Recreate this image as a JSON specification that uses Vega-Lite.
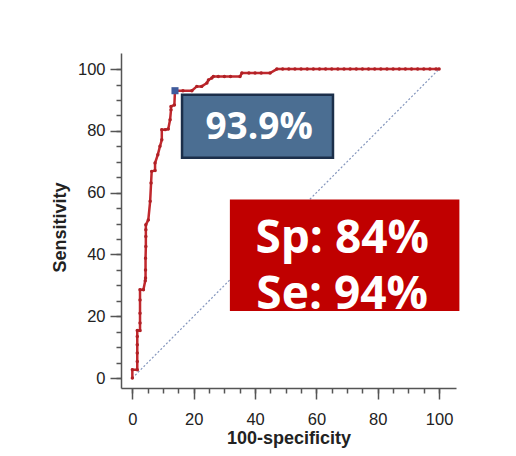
{
  "$schema": "https://vega.github.io/schema/vega-lite/v6.json",
  "width": 335,
  "height": 335,
  "autosize": {"type": "none"},
  "padding": {"left": 121, "top": 53, "right": 60, "bottom": 68},
  "background": "white",
  "config": {"view": {"stroke": null}, "font": "Liberation Sans"},
  "datasets": {
    "diag": [{"fpr": 0, "tpr": 0}, {"fpr": 100, "tpr": 100}],
    "roc": [
      {"fpr": 0, "tpr": 0}, {"fpr": 0, "tpr": 2.7}, {"fpr": 1.6, "tpr": 2.7},
      {"fpr": 1.6, "tpr": 5.4}, {"fpr": 1.6, "tpr": 8.1}, {"fpr": 1.6, "tpr": 10.8}, {"fpr": 1.6, "tpr": 13.5}, {"fpr": 1.6, "tpr": 15.4},
      {"fpr": 2.5, "tpr": 15.4}, {"fpr": 2.5, "tpr": 17.8}, {"fpr": 2.5, "tpr": 21}, {"fpr": 2.5, "tpr": 25.3}, {"fpr": 2.5, "tpr": 28.6},
      {"fpr": 3.6, "tpr": 28.6}, {"fpr": 4.2, "tpr": 31.5}, {"fpr": 4.3, "tpr": 32.4}, {"fpr": 4.3, "tpr": 35}, {"fpr": 4.3, "tpr": 38.8},
      {"fpr": 4.4, "tpr": 42.6}, {"fpr": 4.4, "tpr": 45.8}, {"fpr": 4.4, "tpr": 48}, {"fpr": 4.4, "tpr": 49.6},
      {"fpr": 5.2, "tpr": 51.2}, {"fpr": 5.8, "tpr": 57.2}, {"fpr": 6.1, "tpr": 63.1}, {"fpr": 6.3, "tpr": 66.9},
      {"fpr": 7.4, "tpr": 67.2}, {"fpr": 7.4, "tpr": 69.6}, {"fpr": 8.3, "tpr": 72.3}, {"fpr": 9.0, "tpr": 75}, {"fpr": 9.6, "tpr": 77.1},
      {"fpr": 9.6, "tpr": 80.4}, {"fpr": 10.7, "tpr": 80.4}, {"fpr": 11.7, "tpr": 80.6}, {"fpr": 12.3, "tpr": 83.6},
      {"fpr": 12.6, "tpr": 86.8}, {"fpr": 12.6, "tpr": 87.9}, {"fpr": 13.7, "tpr": 88.4}, {"fpr": 13.9, "tpr": 93},
      {"fpr": 16.5, "tpr": 93}, {"fpr": 19.4, "tpr": 93}, {"fpr": 21, "tpr": 94.4}, {"fpr": 22.6, "tpr": 94.4},
      {"fpr": 24.3, "tpr": 95.5}, {"fpr": 24.8, "tpr": 96.5}, {"fpr": 25.9, "tpr": 97.1}, {"fpr": 26.4, "tpr": 97.6},
      {"fpr": 28, "tpr": 97.6}, {"fpr": 30, "tpr": 97.6}, {"fpr": 32, "tpr": 97.6}, {"fpr": 35.1, "tpr": 97.6},
      {"fpr": 35.7, "tpr": 98.7}, {"fpr": 38, "tpr": 98.7}, {"fpr": 40, "tpr": 98.7}, {"fpr": 42, "tpr": 98.7}, {"fpr": 44.9, "tpr": 98.7},
      {"fpr": 47.1, "tpr": 100}, {"fpr": 49, "tpr": 100}, {"fpr": 51, "tpr": 100}, {"fpr": 53, "tpr": 100}, {"fpr": 55, "tpr": 100},
      {"fpr": 57, "tpr": 100}, {"fpr": 59, "tpr": 100}, {"fpr": 61, "tpr": 100}, {"fpr": 63, "tpr": 100}, {"fpr": 65, "tpr": 100},
      {"fpr": 67, "tpr": 100}, {"fpr": 69, "tpr": 100}, {"fpr": 71, "tpr": 100}, {"fpr": 73, "tpr": 100}, {"fpr": 75, "tpr": 100},
      {"fpr": 77, "tpr": 100}, {"fpr": 79, "tpr": 100}, {"fpr": 81, "tpr": 100}, {"fpr": 83, "tpr": 100}, {"fpr": 85, "tpr": 100},
      {"fpr": 87, "tpr": 100}, {"fpr": 89, "tpr": 100}, {"fpr": 91, "tpr": 100}, {"fpr": 93, "tpr": 100}, {"fpr": 95, "tpr": 100},
      {"fpr": 97, "tpr": 100}, {"fpr": 99, "tpr": 100}, {"fpr": 100, "tpr": 100}
    ],
    "cut": [{"fpr": 13.9, "tpr": 93}],
    "boxes": [
      {"box": "criterion", "x1": 16.2, "x2": 65.4, "y1": 71.3, "y2": 91.7},
      {"box": "summary", "x1": 32.2, "x2": 106.2, "y1": 22.1, "y2": 57.4}
    ],
    "blueText": [{"label": "93.9%", "x": 41.3, "y": 80.9}],
    "redText": [
      {"label": "Sp: 84%", "x": 68.4, "y": 45},
      {"label": "Se: 94%", "x": 68.4, "y": 26.8}
    ]
  },
  "layer": [
    {
      "data": {"name": "diag"},
      "mark": {"type": "line", "color": "#8496bd", "strokeWidth": 1.2, "strokeDash": [2, 2]},
      "encoding": {
        "x": {"field": "fpr", "type": "quantitative",
          "scale": {"domain": [-3.7, 105.5], "nice": false, "zero": false},
          "axis": {"orient": "bottom", "values": [0,5,10,15,20,25,30,35,40,45,50,55,60,65,70,75,80,85,90,95,100],
            "tickSize": 5, "tickWidth": 1.5, "tickColor": "#555", "labels": false, "title": null,
            "domain": true, "domainColor": "#555", "domainWidth": 1.5, "grid": false}},
        "y": {"field": "tpr", "type": "quantitative",
          "scale": {"domain": [-3.2, 105.2], "nice": false, "zero": false},
          "axis": {"orient": "left", "values": [0,5,10,15,20,25,30,35,40,45,50,55,60,65,70,75,80,85,90,95,100],
            "tickSize": 5, "tickWidth": 1.5, "tickColor": "#555", "labels": false, "title": null,
            "domain": true, "domainColor": "#555", "domainWidth": 1.5, "grid": false}}
      }
    },
    {
      "data": {"name": "roc"},
      "mark": {"type": "line", "color": "#c0282d", "strokeWidth": 2.5,
        "point": {"filled": true, "size": 12, "color": "#b02025"}},
      "encoding": {
        "x": {"field": "fpr", "type": "quantitative",
          "axis": {"orient": "bottom", "values": [0, 20, 40, 60, 80, 100],
            "tickSize": 11, "tickWidth": 1.5, "tickColor": "#555", "domain": false, "grid": false,
            "labelFontSize": 16.5, "labelColor": "#222", "labelPadding": 12,
            "title": "100-specificity", "titleFontSize": 18, "titleFontWeight": "bold", "titleColor": "#222", "titlePadding": 2}},
        "y": {"field": "tpr", "type": "quantitative",
          "axis": {"orient": "left", "values": [0, 20, 40, 60, 80, 100],
            "tickSize": 11, "tickWidth": 1.5, "tickColor": "#555", "domain": false, "grid": false,
            "labelFontSize": 16.5, "labelColor": "#222", "labelPadding": 5,
            "title": "Sensitivity", "titleFontSize": 18, "titleFontWeight": "bold", "titleColor": "#222",
            "titlePadding": 8, "titleY": 174}},
        "order": {"field": "fpr", "type": "quantitative"}
      }
    },
    {
      "data": {"name": "cut"},
      "mark": {"type": "point", "shape": "square", "filled": true, "size": 50, "color": "#3f5b9c", "opacity": 1},
      "encoding": {
        "x": {"field": "fpr", "type": "quantitative", "axis": null},
        "y": {"field": "tpr", "type": "quantitative", "axis": null}
      }
    },
    {
      "data": {"name": "boxes"},
      "mark": {"type": "rect", "strokeWidth": 2.5},
      "encoding": {
        "x": {"field": "x1", "type": "quantitative", "axis": null},
        "x2": {"field": "x2"},
        "y": {"field": "y1", "type": "quantitative", "axis": null},
        "y2": {"field": "y2"},
        "fill": {"field": "box", "type": "nominal", "legend": null,
          "scale": {"domain": ["criterion", "summary"], "range": ["#4b6e92", "#c00000"]}},
        "stroke": {"field": "box", "type": "nominal", "legend": null,
          "scale": {"domain": ["criterion", "summary"], "range": ["#1c2f4a", "#c00000"]}}
      }
    },
    {
      "data": {"name": "blueText"},
      "mark": {"type": "text", "font": "Open Sans", "fontWeight": "bold", "fontSize": 37, "color": "white", "baseline": "middle", "align": "center"},
      "encoding": {
        "x": {"field": "x", "type": "quantitative", "axis": null},
        "y": {"field": "y", "type": "quantitative", "axis": null},
        "text": {"field": "label"}
      }
    },
    {
      "data": {"name": "redText"},
      "mark": {"type": "text", "font": "Open Sans", "fontWeight": "bold", "fontSize": 46, "color": "white", "baseline": "middle", "align": "center"},
      "encoding": {
        "x": {"field": "x", "type": "quantitative", "axis": null},
        "y": {"field": "y", "type": "quantitative", "axis": null},
        "text": {"field": "label"}
      }
    }
  ],
  "resolve": {"axis": {"x": "independent", "y": "independent"}}
}
